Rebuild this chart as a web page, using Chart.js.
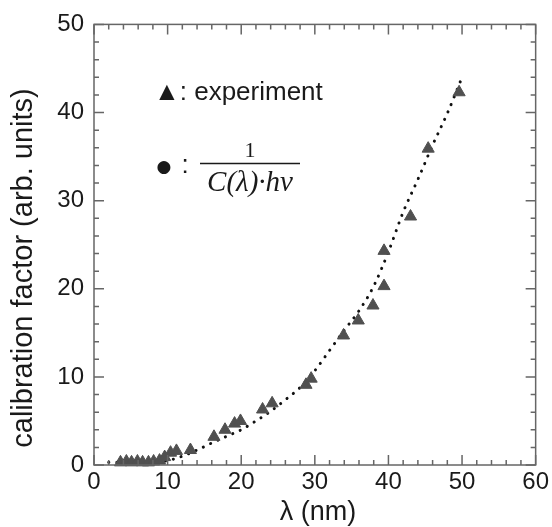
<!DOCTYPE html>
<html>
<head>
<meta charset="utf-8">
<script src="https://cdn.jsdelivr.net/npm/chart.js@4.4.1/dist/chart.umd.min.js"></script>
<style>
    html, body { margin: 0; padding: 0; background: #fff; }
</style>
</head>
<body>
<canvas id="myChart" width="552" height="527"></canvas>
<script>
// measured calibration factor (triangles)
const expWavelength = [3.6, 4.4, 5.1, 5.9, 6.6, 7.4, 8.1, 8.9, 9.6, 10.4, 11.2, 13.1, 16.3, 17.8, 19.1, 19.9, 22.9, 24.2, 28.8, 29.5, 33.9, 35.9, 37.9, 39.4, 39.4, 43.0, 45.4, 49.6];
const expFactor = [0.3, 0.4, 0.3, 0.4, 0.3, 0.3, 0.4, 0.5, 0.9, 1.4, 1.6, 1.7, 3.2, 4.0, 4.7, 5.0, 6.3, 7.0, 9.1, 9.8, 14.7, 16.4, 18.1, 20.3, 24.3, 28.2, 35.9, 42.3];

// 1 / (C(λ)·hν), dotted curve
const calcWavelength = [2, 4, 6, 8, 10, 12, 14, 16, 18, 20, 22, 24, 26, 28, 30, 32, 34, 36, 38, 40, 42, 44, 46, 48, 50];
const calcFactor = [0.3, 0.3, 0.3, 0.35, 0.5, 1.0, 1.7, 2.5, 3.25, 4.0, 5.0, 6.1, 7.4, 8.8, 10.7, 13.0, 15.3, 17.5, 20.3, 24.2, 28.7, 32.4, 36.3, 39.9, 44.0];

const xTickStep = 10;
const yTickStep = 10;
const minorStep = 2;

const toPoints = (xs, ys) => xs.map((x, i) => ({ x: x, y: ys[i] }));

const frameAndLabels = {
    id: "frameAndLabels",
    afterDatasetsDraw: (chart) => {
        const { ctx, chartArea: a, scales } = chart;
        const sx = scales.x;
        const sy = scales.y;
        ctx.save();
        ctx.strokeStyle = "#666";
        ctx.lineWidth = 1.5;
        ctx.strokeRect(a.left, a.top, a.right - a.left, a.bottom - a.top);
        ctx.beginPath();
        for (let v = sx.min; v <= sx.max; v += minorStep) {
            const px = sx.getPixelForValue(v);
            const len = v % xTickStep === 0 ? 10 : 5;
            ctx.moveTo(px, a.bottom);
            ctx.lineTo(px, a.bottom - len);
            ctx.moveTo(px, a.top);
            ctx.lineTo(px, a.top + len);
        }
        for (let v = sy.min; v <= sy.max; v += minorStep) {
            const py = sy.getPixelForValue(v);
            const len = v % yTickStep === 0 ? 10 : 5;
            ctx.moveTo(a.left, py);
            ctx.lineTo(a.left + len, py);
            ctx.moveTo(a.right, py);
            ctx.lineTo(a.right - len, py);
        }
        ctx.stroke();
        ctx.restore();
    },
    afterDraw: (chart) => {
        const ctx = chart.ctx;
        ctx.save();
        ctx.fillStyle = "#1a1a1a";

        // axis titles
        ctx.font = "27px 'Liberation Sans', Arial, sans-serif";
        ctx.textAlign = "center";
        ctx.textBaseline = "middle";
        ctx.fillText("λ (nm)", 318, 513);
        ctx.save();
        ctx.translate(24, 268);
        ctx.rotate(-Math.PI / 2);
        ctx.font = "29px 'Liberation Sans', Arial, sans-serif";
        ctx.fillText("calibration factor (arb. units)", 0, 0);
        ctx.restore();

        // legend
        ctx.textAlign = "left";
        ctx.textBaseline = "alphabetic";
        ctx.font = "26px 'Liberation Sans', Arial, sans-serif";
        ctx.fillText("▲: experiment", 154, 100);

        ctx.font = "17px 'DejaVu Sans', sans-serif";
        ctx.textAlign = "center";
        ctx.textBaseline = "middle";
        ctx.fillText("●", 164, 168);
        ctx.font = "26px 'Liberation Sans', Arial, sans-serif";
        ctx.fillText(":", 185, 166);

        ctx.font = "22px 'Liberation Serif', 'Times New Roman', serif";
        ctx.textBaseline = "alphabetic";
        ctx.fillText("1", 250, 157);
        ctx.strokeStyle = "#1a1a1a";
        ctx.lineWidth = 1.5;
        ctx.beginPath();
        ctx.moveTo(200, 163.5);
        ctx.lineTo(300, 163.5);
        ctx.stroke();
        ctx.font = "italic 29px 'Liberation Serif', 'Times New Roman', serif";
        ctx.fillText("C(λ)·hν", 250, 191);
        ctx.restore();
    },
};

const ctx = document.getElementById("myChart");
new Chart(ctx, {
    type: "scatter",
    data: {
        datasets: [
            {
                label: "1/(C(λ)·hν)",
                data: toPoints(calcWavelength, calcFactor),
                showLine: true,
                borderColor: "#111",
                borderWidth: 3,
                borderDash: [0.1, 8],
                borderCapStyle: "round",
                cubicInterpolationMode: "monotone",
                pointRadius: 0,
                order: 2,
            },
            {
                label: "experiment",
                data: toPoints(expWavelength, expFactor),
                pointStyle: "triangle",
                pointRadius: 7,
                backgroundColor: "#505050",
                borderColor: "#505050",
                borderWidth: 1,
                clip: false,
                order: 1,
            },
        ],
    },
    options: {
        responsive: false,
        animation: false,
        layout: { padding: { left: 0, top: 22, right: 15, bottom: 0 } },
        plugins: {
            legend: { display: false },
            tooltip: { enabled: false },
        },
        scales: {
            x: {
                type: "linear",
                min: 0,
                max: 60,
                grid: { display: false, drawTicks: false },
                border: { display: false },
                ticks: {
                    stepSize: xTickStep,
                    padding: 3,
                    color: "#1a1a1a",
                    font: { family: "'Liberation Sans', Arial, sans-serif", size: 24 },
                },
                afterFit: (scale) => { scale.height = 62; },
            },
            y: {
                type: "linear",
                min: 0,
                max: 50,
                grid: { display: false, drawTicks: false },
                border: { display: false },
                ticks: {
                    stepSize: yTickStep,
                    padding: 10,
                    color: "#1a1a1a",
                    font: { family: "'Liberation Sans', Arial, sans-serif", size: 24 },
                },
                afterFit: (scale) => { scale.width = 94; },
            },
        },
    },
    plugins: [frameAndLabels],
});
</script>
</body>
</html>
